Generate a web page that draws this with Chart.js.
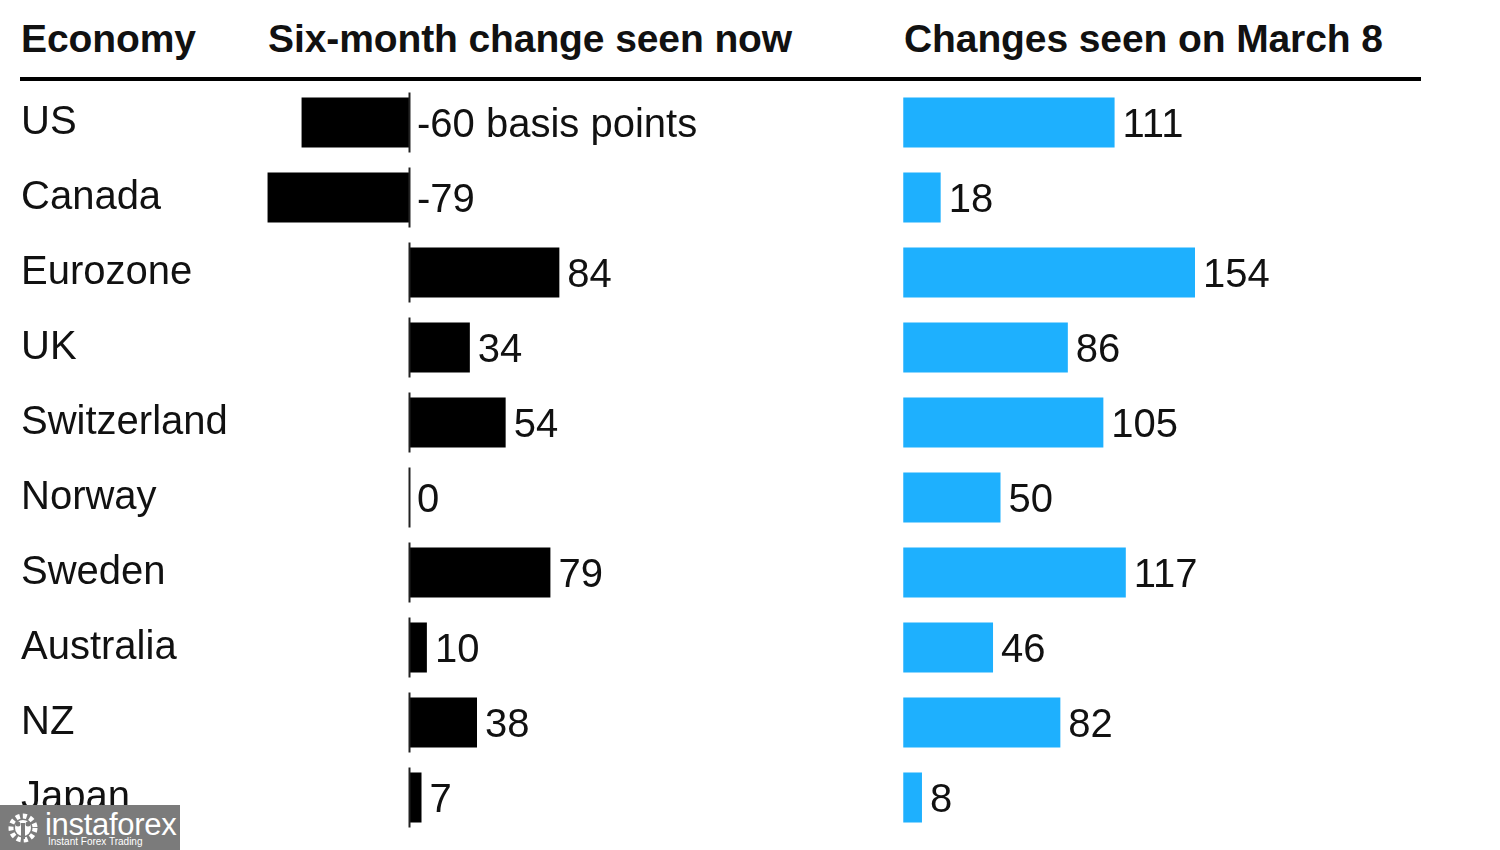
<!DOCTYPE html>
<html>
<head>
<meta charset="utf-8">
<script src="https://cdn.jsdelivr.net/npm/chart.js@4.4.1/dist/chart.umd.min.js"></script>
<style>
body { margin: 0; background: #fff; width: 1500px; height: 850px; overflow: hidden; position: relative; font-family: "Liberation Sans", Arial, sans-serif; }
.hdr { position: absolute; top: 19px; font-weight: bold; font-size: 39px; line-height: 1; color: #111; letter-spacing: -0.1px; white-space: nowrap; }
.rule { position: absolute; left: 20px; top: 77px; width: 1401px; height: 4px; background: #000; }
.box { position: absolute; top: 85px; height: 750px; }
.wm { position: absolute; left: 0; top: 805px; width: 180px; height: 45px; background: #7b7b7b; color: #fff; }
.wm .big { position: absolute; left: 45px; top: 4px; font-size: 31px; line-height: 1; letter-spacing: -0.3px; }
.wm .small { position: absolute; left: 48px; top: 32px; font-size: 10px; line-height: 1; }
.wm svg { position: absolute; left: 6px; top: 6px; }
</style>
</head>
<body>
<div class="hdr" style="left:21px">Economy</div>
<div class="hdr" style="left:268px">Six-month change seen now</div>
<div class="hdr" style="left:904px">Changes seen on March 8</div>
<div class="rule"></div>

<div class="box" style="left:0;width:880px"><canvas id="nowChart"></canvas></div>
<div class="box" style="left:880px;width:600px"><canvas id="marchChart"></canvas></div>

<div class="wm">
  <svg width="34" height="34" viewBox="0 0 34 34">
    <circle cx="17" cy="17" r="12" fill="none" stroke="#fff" stroke-width="5" stroke-dasharray="4 3"/>
    <circle cx="17" cy="17" r="8" fill="#fff"/>
    <rect x="15" y="12" width="4" height="16" fill="#7b7b7b"/>
    <circle cx="12" cy="13" r="2.5" fill="#7b7b7b"/>
    <circle cx="22" cy="13" r="2.5" fill="#7b7b7b"/>
  </svg>
  <div class="big">instaforex</div>
  <div class="small">Instant Forex Trading</div>
</div>

<script>
const economies = ['US', 'Canada', 'Eurozone', 'UK', 'Switzerland', 'Norway', 'Sweden', 'Australia', 'NZ', 'Japan'];
const changeNow = [-60, -79, 84, 34, 54, 0, 79, 10, 38, 7];
const changeMarch8 = [111, 18, 154, 86, 105, 50, 117, 46, 82, 8];
const unitNote = ' basis points';

const FONT = '"Liberation Sans", Arial, sans-serif';

// value labels at the end of each bar (negative ones sit right of the zero line)
const valueLabels = {
    id: 'valueLabels',
    afterDatasetsDraw(chart) {
        const ctx = chart.ctx;
        const meta = chart.getDatasetMeta(0);
        const values = chart.data.datasets[0].data;
        ctx.save();
        ctx.font = '40px ' + FONT;
        ctx.fillStyle = '#111';
        ctx.textBaseline = 'middle';
        ctx.textAlign = 'left';
        meta.data.forEach((bar, i) => {
            const x = Math.max(bar.x, bar.base) + 8;
            let txt = String(values[i]);
            if (i === 0 && chart.canvas.id === 'nowChart') txt += unitNote;
            ctx.fillText(txt, x, bar.y + 3);
        });
        ctx.restore();
    }
};

// short zero ticks for each row
const zeroTicks = {
    id: 'zeroTicks',
    afterDatasetsDraw(chart) {
        const ctx = chart.ctx;
        const x0 = Math.round(chart.scales.x.getPixelForValue(0)) + 0.5;
        ctx.save();
        ctx.strokeStyle = '#222';
        ctx.lineWidth = 2;
        economies.forEach((e, i) => {
            const y = chart.scales.y.getPixelForValue(i);
            ctx.beginPath();
            ctx.moveTo(x0, y - 30);
            ctx.lineTo(x0, y + 30);
            ctx.stroke();
        });
        ctx.restore();
    }
};

function baseOptions(xmin, xmax) {
    return {
        indexAxis: 'y',
        responsive: true,
        maintainAspectRatio: false,
        animation: false,
        layout: { padding: 0 },
        plugins: { legend: { display: false }, tooltip: { enabled: false } },
        scales: {
            x: { display: false, min: xmin, max: xmax },
            y: { display: false }
        }
    };
}

const nowOptions = baseOptions(-88.8, 263.1);
nowOptions.layout.padding = { left: 21 };
nowOptions.scales.y = {
    display: true,
    grid: { display: false },
    border: { display: false },
    ticks: {
        autoSkip: false,
        crossAlign: 'far',
        color: '#111',
        font: { family: FONT, size: 40 }
    },
    afterFit(scale) {
        scale.width = 229;
        scale.paddingTop = 0;
        scale.paddingBottom = 0;
    }
};

new Chart(document.getElementById('nowChart'), {
    type: 'bar',
    data: {
        labels: economies,
        datasets: [{
            data: changeNow,
            backgroundColor: '#000',
            borderWidth: 0,
            categoryPercentage: 1,
            barPercentage: 0.667
        }]
    },
    options: nowOptions,
    plugins: [zeroTicks, valueLabels]
});

new Chart(document.getElementById('marchChart'), {
    type: 'bar',
    data: {
        labels: economies,
        datasets: [{
            data: changeMarch8,
            backgroundColor: '#1eb0fe',
            borderWidth: 0,
            base: -2,
            categoryPercentage: 1,
            barPercentage: 0.667
        }]
    },
    options: baseOptions(-14.44, 306.4),
    plugins: [valueLabels]
});
</script>
</body>
</html>
